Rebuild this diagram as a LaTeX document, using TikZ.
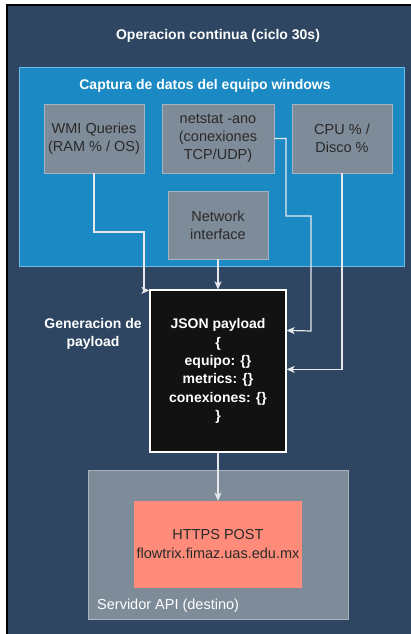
\documentclass[tikz,border=0pt]{standalone}
\usepackage{fontspec}
\setmainfont{Liberation Sans}
\usetikzlibrary{arrows.meta,calc}

\definecolor{panel}{HTML}{2E4662}
\definecolor{capblue}{HTML}{1B8AC4}
\definecolor{capedge}{HTML}{6DBAE6}
\definecolor{greybox}{HTML}{7E8B98}
\definecolor{greyedge}{HTML}{A9B3BE}
\definecolor{salmon}{HTML}{FF8C7A}
\definecolor{darktext}{HTML}{2A2A2A}
\definecolor{wire}{HTML}{E6E8EC}

\tikzset{
  whitebold/.style={text=white, font=\fontsize{14}{18}\selectfont\bfseries, align=center},
  greycard/.style={draw=greyedge, line width=0.9pt, fill=greybox, inner sep=0pt,
    text=darktext, font=\fontsize{14.5}{17.8}\selectfont, align=center},
  conn/.style={draw=wire, line width=1.2pt, -{Stealth[length=8pt,width=7pt,inset=2pt]}},
}

\begin{document}
\begin{tikzpicture}[x=1pt,y=-1pt]
  \useasboundingbox (0,0) rectangle (411,634);
  \fill[white] (0,0) rectangle (411,634);

  % outer panel, running past the right and bottom edges
  \begin{scope}
    \clip (0,0) rectangle (411,634);
    \draw[fill=panel, draw=black, line width=2pt] (7,5) rectangle (420,645);
  \end{scope}

  \node[whitebold] (title) at (218,36) {Operacion continua (ciclo 30s)};

  % data capture group
  \node[draw=capedge, line width=0.9pt, fill=capblue, minimum width=385pt,
        minimum height=199pt, inner sep=0pt] (capture) at (211.5,166.5) {};
  \node[whitebold] (captitle) at (205,86) {Captura de datos del equipo windows};

  \node[greycard, minimum width=100pt, minimum height=69pt] (wmi) at (94,138.5)
    {WMI Queries\\(RAM \% / OS)};
  \node[greycard, minimum width=112pt, minimum height=69pt] (netstat) at (218,138.5)
    {netstat -ano\\(conexiones\\TCP/UDP)};
  \node[greycard, minimum width=100pt, minimum height=69pt] (cpu) at (342,138.5)
    {CPU \% /\\Disco \%};
  \node[greycard, minimum width=100pt, minimum height=68pt] (netif) at (218,225)
    {Network\\interface};

  % payload generation
  \node[draw=white, line width=1.2pt, fill={black!93}, minimum width=136pt,
        minimum height=162pt, inner sep=0pt, text=white, align=center,
        font=\fontsize{14}{18.4}\selectfont\bfseries] (json) at (218,371)
    {JSON payload\\\{\\equipo: \{\}\\metrics: \{\}\\conexiones: \{\}\\\}};
  \node[whitebold] (genlabel) at (93,334) {Generacion de\\payload};

  % destination server
  \node[draw=greyedge, line width=0.9pt, fill=greybox, minimum width=260pt,
        minimum height=149pt, inner sep=0pt] (server) at (218,544.5) {};
  \node[draw=none, fill=salmon, minimum width=168pt, minimum height=87pt,
        inner sep=0pt, text=darktext, align=center,
        font=\fontsize{14.5}{19}\selectfont] (post) at (218,544.5)
    {HTTPS POST\\flowtrix.fimaz.uas.edu.mx};
  \node[anchor=west, text=white, font=\fontsize{14.5}{17}\selectfont, inner sep=0pt]
    (servlabel) at (97,606) {Servidor API (destino)};

  % connectors
  \draw[conn] (wmi.south) |- (144,232) |- ([yshift=-1pt]json.north west);
  \draw[conn] (netif.south) -- (json.north);
  \draw[conn] (netstat.east) -| (286,216) -| (311,331) -- ($(json.north east)+(0,41)$);
  \draw[conn] (cpu.south) |- ($(json.north east)+(0,80)$);
  \draw[conn] (json.south) -- (post.north);
\end{tikzpicture}
\end{document}
